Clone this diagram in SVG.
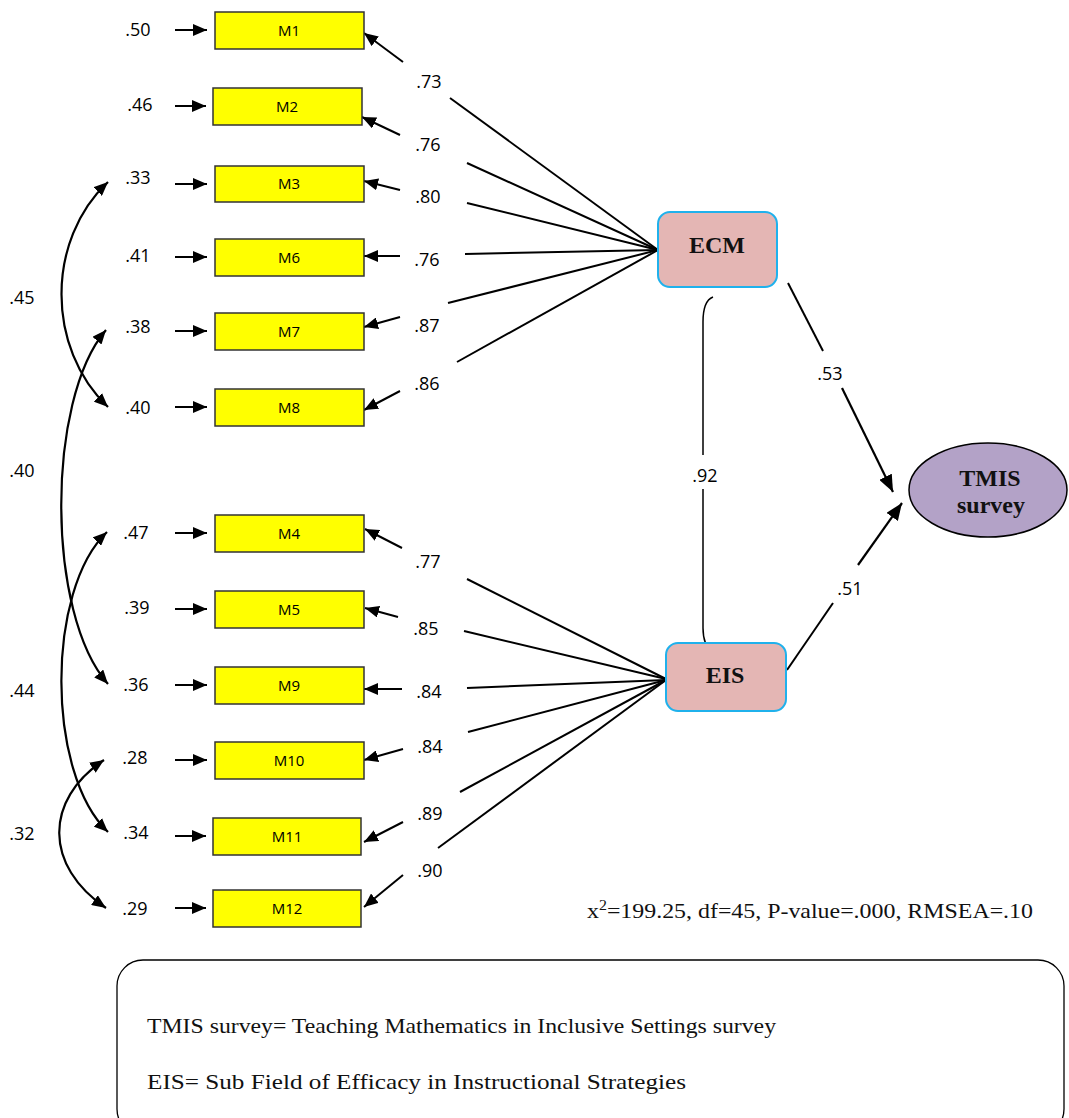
<svg xmlns="http://www.w3.org/2000/svg" width="1069" height="1118" viewBox="0 0 1069 1118">
<defs>
<style>
.box{fill:#ffff00;stroke:#333;stroke-width:1.5}
.mt{font-family:"Open Sans","Liberation Sans",sans-serif;font-size:15px;fill:#000;text-anchor:middle}
.lb{font-family:"Open Sans","Liberation Sans",sans-serif;font-size:18px;fill:#000;text-anchor:middle}
.ln{stroke:#000;stroke-width:2;fill:none}
.ar{stroke:#000;stroke-width:2;fill:none;marker-end:url(#ah)}
.arc{stroke:#000;stroke-width:2.2;fill:none;marker-start:url(#ah2);marker-end:url(#ah)}
.big{stroke:#000;stroke-width:2.2;fill:none;marker-end:url(#ahb)}
.lat{fill:#e4b6b4;stroke:#1fb1ec;stroke-width:2}
.nt{font-family:"Liberation Serif","DejaVu Serif",serif;font-size:24px;font-weight:bold;fill:#111;text-anchor:middle}
.st{font-family:"Liberation Serif","DejaVu Serif",serif;font-size:21px;fill:#111}
.lg{font-family:"Liberation Serif","DejaVu Serif",serif;font-size:22px;fill:#111}
</style>
<marker id="ah" markerUnits="userSpaceOnUse" markerWidth="14" markerHeight="12" viewBox="0 0 14 12" refX="14" refY="6" orient="auto"><path d="M0,0 L14,6 L0,12 z" fill="#000"/></marker>
<marker id="ah2" markerUnits="userSpaceOnUse" markerWidth="14" markerHeight="12" viewBox="0 0 14 12" refX="0" refY="6" orient="auto"><path d="M14,0 L0,6 L14,12 z" fill="#000"/></marker>
<marker id="ahb" markerUnits="userSpaceOnUse" markerWidth="17" markerHeight="14" viewBox="0 0 17 14" refX="17" refY="7" orient="auto"><path d="M0,0 L17,7 L0,14 z" fill="#000"/></marker>
</defs>
<rect width="1069" height="1118" fill="#fff"/>

<g id="connectors">
<line class="ar" x1="175" y1="30" x2="207" y2="30"/>
<line class="ar" x1="175" y1="106" x2="206" y2="106"/>
<line class="ar" x1="175" y1="184" x2="207" y2="184"/>
<line class="ar" x1="175" y1="257" x2="207" y2="257"/>
<line class="ar" x1="175" y1="331" x2="207" y2="331"/>
<line class="ar" x1="175" y1="407" x2="207" y2="407"/>
<line class="ar" x1="175" y1="533" x2="207" y2="533"/>
<line class="ar" x1="175" y1="609" x2="207" y2="609"/>
<line class="ar" x1="175" y1="685" x2="207" y2="685"/>
<line class="ar" x1="175" y1="760" x2="207" y2="760"/>
<line class="ar" x1="175" y1="836" x2="206" y2="836"/>
<line class="ar" x1="175" y1="908" x2="206" y2="908"/>
<line class="ln" x1="450" y1="98" x2="658" y2="250"/><line class="ar" x1="403" y1="62" x2="364" y2="33"/>
<line class="ln" x1="467" y1="163" x2="658" y2="250"/><line class="ar" x1="400" y1="135" x2="362" y2="117"/>
<line class="ln" x1="467" y1="203" x2="658" y2="250"/><line class="ar" x1="400" y1="190" x2="364" y2="181"/>
<line class="ln" x1="465" y1="254" x2="658" y2="250"/><line class="ar" x1="400" y1="256" x2="364" y2="256"/>
<line class="ln" x1="448" y1="303" x2="658" y2="250"/><line class="ar" x1="400" y1="317" x2="364" y2="327"/>
<line class="ln" x1="457" y1="362" x2="658" y2="250"/><line class="ar" x1="400" y1="391" x2="364" y2="410"/>
<line class="ln" x1="467" y1="579" x2="666" y2="679"/><line class="ar" x1="402" y1="548" x2="365" y2="529"/>
<line class="ln" x1="464" y1="631" x2="666" y2="679"/><line class="ar" x1="398" y1="617" x2="365" y2="608"/>
<line class="ln" x1="467" y1="688" x2="666" y2="680"/><line class="ar" x1="402" y1="689" x2="364" y2="689"/>
<line class="ln" x1="468" y1="732" x2="666" y2="680"/><line class="ar" x1="403" y1="749" x2="364" y2="760"/>
<line class="ln" x1="460" y1="792" x2="666" y2="680"/><line class="ar" x1="403" y1="822" x2="364" y2="842"/>
<line class="ln" x1="438" y1="848" x2="666" y2="680"/><line class="ar" x1="403" y1="875" x2="364" y2="907"/>
<line class="ln" x1="788" y1="283" x2="823" y2="351"/><line class="big" x1="842" y1="388" x2="893" y2="492"/>
<line class="ln" x1="787" y1="670" x2="833" y2="603"/><line class="big" x1="858" y1="565" x2="902" y2="503"/>
<path d="M713,297 C705,300 703,310 703,322 L703,455 M703,489 L703,628 C703,640 706,648 713,653" stroke="#000" stroke-width="1.5" fill="none"/>
<path class="arc" d="M108,182 C46,240 46,348 108,407"/>
<path class="arc" d="M106,330 C46,400 46,614 108,684"/>
<path class="arc" d="M107,532 C46,590 46,773 108,832"/>
<path class="arc" d="M104,760 C44,800 44,866 106,908"/>
<text class="lb" x="429" y="88">.73</text>
<text class="lb" x="428" y="151">.76</text>
<text class="lb" x="428" y="203">.80</text>
<text class="lb" x="427" y="266">.76</text>
<text class="lb" x="427" y="332">.87</text>
<text class="lb" x="427" y="390">.86</text>
<text class="lb" x="428" y="568">.77</text>
<text class="lb" x="426" y="635">.85</text>
<text class="lb" x="429" y="698">.84</text>
<text class="lb" x="430" y="753">.84</text>
<text class="lb" x="430" y="820">.89</text>
<text class="lb" x="430" y="877">.90</text>
<text class="lb" x="830" y="380">.53</text>
<text class="lb" x="850" y="595">.51</text>
<text class="lb" x="705" y="482">.92</text>
<text class="lb" x="22" y="304">.45</text>
<text class="lb" x="22" y="477">.40</text>
<text class="lb" x="22" y="697">.44</text>
<text class="lb" x="22" y="840">.32</text>
</g>

<g id="errors">
<text class="lb" x="138" y="36">.50</text>
<text class="lb" x="140" y="111">.46</text>
<text class="lb" x="138" y="184">.33</text>
<text class="lb" x="138" y="262">.41</text>
<text class="lb" x="138" y="333">.38</text>
<text class="lb" x="138" y="414">.40</text>
<text class="lb" x="136" y="539">.47</text>
<text class="lb" x="137" y="614">.39</text>
<text class="lb" x="136" y="691">.36</text>
<text class="lb" x="135" y="764">.28</text>
<text class="lb" x="136" y="839">.34</text>
<text class="lb" x="135" y="915">.29</text>
</g>

<g id="node-M1"><rect class="box" x="215" y="12" width="149" height="37"/><text class="mt" x="289" y="36">M1</text></g>
<g id="node-M2"><rect class="box" x="213" y="88" width="149" height="37"/><text class="mt" x="287" y="112">M2</text></g>
<g id="node-M3"><rect class="box" x="215" y="166" width="149" height="36"/><text class="mt" x="289" y="189">M3</text></g>
<g id="node-M6"><rect class="box" x="215" y="239" width="149" height="37"/><text class="mt" x="289" y="263">M6</text></g>
<g id="node-M7"><rect class="box" x="215" y="313" width="149" height="37"/><text class="mt" x="289" y="337">M7</text></g>
<g id="node-M8"><rect class="box" x="215" y="389" width="149" height="37"/><text class="mt" x="289" y="413">M8</text></g>
<g id="node-M4"><rect class="box" x="215" y="515" width="149" height="37"/><text class="mt" x="289" y="539">M4</text></g>
<g id="node-M5"><rect class="box" x="215" y="591" width="149" height="37"/><text class="mt" x="289" y="615">M5</text></g>
<g id="node-M9"><rect class="box" x="215" y="667" width="149" height="37"/><text class="mt" x="289" y="691">M9</text></g>
<g id="node-M10"><rect class="box" x="215" y="742" width="149" height="37"/><text class="mt" x="289" y="766">M10</text></g>
<g id="node-M11"><rect class="box" x="213" y="818" width="148" height="37"/><text class="mt" x="287" y="842">M11</text></g>
<g id="node-M12"><rect class="box" x="213" y="890" width="148" height="37"/><text class="mt" x="287" y="914">M12</text></g>

<g id="node-ECM"><rect class="lat" x="658" y="212" width="119" height="75" rx="12"/><text class="nt" x="717" y="253">ECM</text></g>
<g id="node-EIS"><rect class="lat" x="666" y="643" width="120" height="68" rx="12"/><text class="nt" x="725" y="683">EIS</text></g>
<g id="node-TMIS"><ellipse cx="988" cy="490" rx="79" ry="47" fill="#b3a2c7" stroke="#000" stroke-width="1.5"/><text class="nt" x="990" y="486">TMIS</text><text class="nt" x="991" y="513">survey</text></g>

<g id="fit"><text class="st" x="587" y="918" textLength="446" lengthAdjust="spacingAndGlyphs">x<tspan font-size="14" dy="-8">2</tspan><tspan dy="8">=199.25, df=45, P-value=.000, RMSEA=.10</tspan></text></g>

<g id="legend">
<rect x="117" y="960" width="947" height="175" rx="26" fill="none" stroke="#000" stroke-width="1.3"/>
<text class="lg" x="147" y="1033" textLength="629" lengthAdjust="spacingAndGlyphs">TMIS survey= Teaching Mathematics in Inclusive Settings survey</text>
<text class="lg" x="147" y="1089" textLength="539" lengthAdjust="spacingAndGlyphs">EIS= Sub Field of Efficacy in Instructional Strategies</text>
</g>
</svg>
